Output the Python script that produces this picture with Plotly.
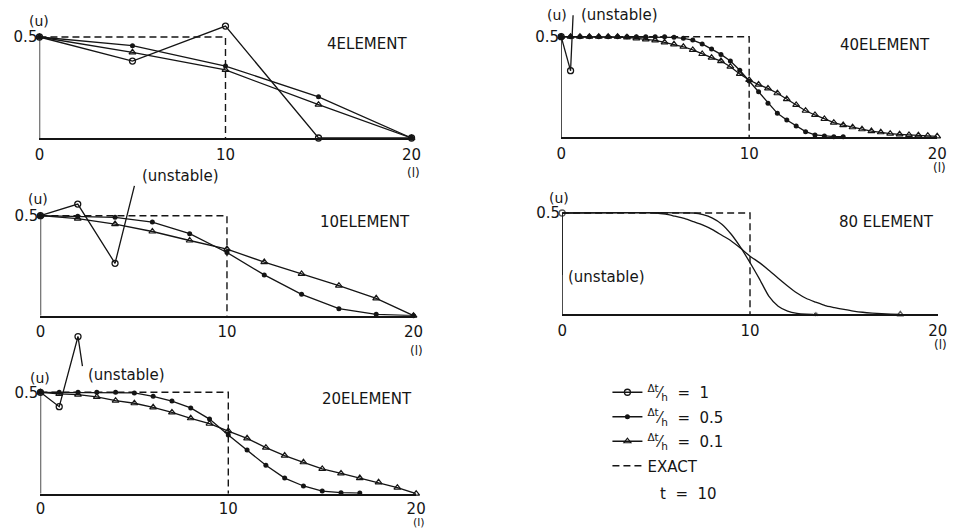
import plotly.graph_objects as go

# ---------------- data ----------------
# exact solution at t = 10 (step moved to l = 10)
exact_l = [0, 10, 10]
exact_u = [0.5, 0.5, 0.0]

# 4 elements
l4 = [0, 5, 10, 15, 20]
u4_c1 = [0.5, 0.381, 0.554, 0.0, 0.0]
u4_c05 = [0.5, 0.457, 0.356, 0.204, 0.0]
u4_c01 = [0.5, 0.424, 0.337, 0.165, 0.0]

# 10 elements
l10 = [0, 2, 4, 6, 8, 10, 12, 14, 16, 18, 20]
l10_c1 = [0, 2, 4]
u10_c1 = [0.5, 0.558, 0.262]
u10_c05 = [0.5, 0.497, 0.492, 0.468, 0.41, 0.316, 0.204, 0.107, 0.035, 0.007, 0.0]
u10_c01 = [0.5, 0.485, 0.458, 0.421, 0.376, 0.333, 0.268, 0.209, 0.150, 0.087, 0.0]

# 20 elements
l20 = list(range(0, 21))
l20_c1 = [0, 1, 2]
u20_c1 = [0.5, 0.429, 0.775]
l20_c05 = list(range(0, 18))
u20_c05 = [0.5, 0.5, 0.5, 0.5, 0.5, 0.497, 0.48, 0.457, 0.423, 0.368, 0.289,
           0.215, 0.14, 0.077, 0.038, 0.013, 0.005, 0.003]
u20_c01 = [0.5, 0.492, 0.489, 0.477, 0.459, 0.446, 0.426, 0.401, 0.372, 0.345, 0.309,
           0.273, 0.227, 0.188, 0.155, 0.122, 0.100, 0.077, 0.056, 0.030, 0.0]

# 40 elements
l40_c1 = [0, 0.5]
u40_c1 = [0.5, 0.331]
l40_c05 = [i * 0.5 for i in range(31)]
u40_c05 = [0.5] * 12 + [0.497, 0.492, 0.483, 0.464, 0.439, 0.412, 0.379, 0.333, 0.280,
                        0.227, 0.169, 0.119, 0.086, 0.056, 0.028, 0.012, 0.007, 0.003, 0.003]
l40_c01 = [i * 0.5 for i in range(41)]
u40_c01 = [0.5] * 7 + [0.497, 0.492, 0.487, 0.482, 0.472, 0.462, 0.450, 0.434, 0.414, 0.396,
                       0.379, 0.351, 0.315, 0.285, 0.262, 0.243, 0.219, 0.19, 0.161, 0.132,
                       0.111, 0.091, 0.073, 0.061, 0.050, 0.040, 0.031, 0.025, 0.018, 0.015,
                       0.012, 0.010, 0.008, 0.005]

# 80 elements (smooth curves)
l80_c1 = [0, 0]
u80_c1 = [0.5, 0.194]
l80_c05 = [0, 7, 7.5, 8, 8.5, 9, 9.5, 10, 10.5, 11, 11.5, 12, 12.5, 13, 13.5]
u80_c05 = [0.5, 0.5, 0.492, 0.475, 0.445, 0.395, 0.33, 0.255, 0.175, 0.09, 0.04, 0.016, 0.005, 0.001, 0.0]
l80_c01 = [0, 5, 5.5, 6, 6.5, 7, 7.5, 8, 8.5, 9, 9.5, 10, 10.5, 11, 11.5, 12, 12.5, 13,
           13.5, 14, 14.5, 15, 15.5, 16, 16.5, 17, 17.5, 18]
u80_c01 = [0.5, 0.5, 0.494, 0.484, 0.473, 0.457, 0.44, 0.418, 0.39, 0.362, 0.326, 0.287,
           0.255, 0.218, 0.178, 0.14, 0.105, 0.078, 0.06, 0.043, 0.033, 0.024, 0.016,
           0.01, 0.006, 0.003, 0.001, 0.0]

x_ticks = [0, 10, 20]
y_ticks = [0.5]
y_ticktext = ["0.5"]
titles = ["4ELEMENT", "10ELEMENT", "20ELEMENT", "40ELEMENT", "80 ELEMENT"]
legend_names = ["<sup>Δt</sup>⁄<sub>h</sub>  =  1",
                "<sup>Δt</sup>⁄<sub>h</sub>  =  0.5",
                "<sup>Δt</sup>⁄<sub>h</sub>  =  0.1",
                "EXACT"]

# ---------------- layout helpers ----------------
W, H = 959, 528
INK = "#151515"
FONT = "DejaVu Sans"

# (x0 px, x20 px, y0 px, px per unit u, y range top)
panels = [
    (35, 413, 138.0, 202.0, 0.6),
    (36, 415, 315.7, 200.0, 0.6),
    (36, 417.7, 493.7, 202.8, 0.8),
    (565, 947, 137.3, 201.2, 0.55),
    (566, 947.7, 314.3, 202.6, 0.55),
]

fig = go.Figure()

styles = {
    "c1": dict(symbol="circle-open", size=6, line=dict(width=1.3, color=INK)),
    "c05": dict(symbol="circle", size=5, color=INK),
    "c01": dict(symbol="triangle-up-open", size=6, line=dict(width=1.2, color=INK)),
}
ranks = {"c1": 1, "c05": 2, "c01": 3, "exact": 4}


def add(panel, x, y, kind, legend=False, name=None, mode="lines+markers", shape="linear", sizes=None):
    ax = "" if panel == 1 else str(panel)
    mk = dict(styles[kind])
    if sizes is not None:
        mk["size"] = sizes
    fig.add_trace(go.Scatter(
        x=x, y=y, mode=mode, xaxis="x" + ax, yaxis="y" + ax,
        line=dict(color=INK, width=1.3, shape=shape, smoothing=0.6),
        marker=mk, cliponaxis=False, showlegend=legend, name=name,
        legendgroup=kind, legendrank=ranks[kind],
    ))


def add_exact(panel, legend=False):
    ax = "" if panel == 1 else str(panel)
    fig.add_trace(go.Scatter(
        x=exact_l, y=exact_u, mode="lines", xaxis="x" + ax, yaxis="y" + ax,
        line=dict(color=INK, width=1.4, dash="7px,4px"),
        showlegend=legend, name=legend_names[3], legendgroup="exact",
        legendrank=ranks["exact"], cliponaxis=False,
    ))


# panel 1
add(1, l4, u4_c1, "c1", True, legend_names[0])
add(1, l4, u4_c05, "c05", True, legend_names[1])
add(1, l4, u4_c01, "c01", True, legend_names[2])
add_exact(1, True)
# panel 2
add_exact(2)
add(2, l10_c1, u10_c1, "c1")
add(2, l10, u10_c05, "c05")
add(2, l10, u10_c01, "c01")
# panel 3
add_exact(3)
add(3, l20_c1, u20_c1, "c1")
add(3, l20_c05, u20_c05, "c05")
add(3, l20, u20_c01, "c01")
# panel 4
add_exact(4)
add(4, l40_c1, u40_c1, "c1")
add(4, l40_c05, u40_c05, "c05")
add(4, l40_c01, u40_c01, "c01")
# panel 5
add_exact(5)
add(5, l80_c1, u80_c1, "c1", sizes=[6, 0])
add(5, l80_c05, u80_c05, "c05", shape="spline", sizes=[0] * (len(l80_c05) - 1) + [5])
add(5, l80_c01, u80_c01, "c01", shape="spline", sizes=[0] * (len(l80_c01) - 1) + [6])

layout = dict(
    width=W, height=H, margin=dict(l=0, r=0, t=0, b=0),
    paper_bgcolor="white", plot_bgcolor="white",
    font=dict(family=FONT, size=15, color=INK),
    showlegend=True,
    legend=dict(x=612 / W, y=1 - 376 / H, xanchor="left", yanchor="top",
                bgcolor="rgba(0,0,0,0)", font=dict(size=15, family=FONT),
                traceorder="grouped", tracegroupgap=2, itemwidth=30),
)

annotations = []
shapes = []
for i, (x0, x20, y0, ppu, ytop) in enumerate(panels, start=1):
    ax = "" if i == 1 else str(i)
    top_px = y0 - ytop * ppu
    layout["xaxis" + ax] = dict(
        domain=[x0 / W, x20 / W], range=[0, 20], anchor="y" + ax,
        showline=True, linecolor=INK, linewidth=1.5, ticks="",
        tickvals=x_ticks, showgrid=False, zeroline=False,
        ticklabelstandoff=1 if i == 3 else 2,
        tickfont=dict(size=15),
    )
    layout["yaxis" + ax] = dict(
        domain=[1 - y0 / H, 1 - top_px / H], range=[0, ytop], anchor="x" + ax,
        showline=False, ticks="", tickvals=y_ticks, ticktext=y_ticktext,
        showgrid=False, zeroline=False, tickfont=dict(size=15), ticklabelstandoff=1,
    )
    # y axis line from 0 to 0.5
    shapes.append(dict(type="line", xref="x" + ax, yref="y" + ax, x0=0, x1=0, y0=0, y1=0.5,
                       line=dict(color=INK, width=1.5), layer="below"))

# panel texts: (text, x px, y px, size)
texts = [
    (titles[0], 368, 44, 15), (titles[1], 366, 222, 15), (titles[2], 368, 399, 15),
    (titles[3], 894, 45, 15), (titles[4], 895, 222, 15),
    ("(u)", 35, 21, 14), ("(u)", 34, 199, 14), ("(u)", 36, 378, 14), ("(u)", 561, 15, 14),
    ("(u)", 563, 198, 14),
    ("(l)", 415, 173, 12), ("(l)", 418, 351, 12), ("(l)", 421, 522, 11), ("(l)", 949, 168, 12),
    ("(l)", 950, 345, 12),
]
for t, xp, yp, fs in texts:
    annotations.append(dict(text=t, x=xp / W, y=1 - yp / H, xref="paper", yref="paper",
                            showarrow=False, xanchor="center", yanchor="middle",
                            font=dict(size=fs, family=FONT, color=INK)))

# "(unstable)" labels
unst = [(137, 176), (82, 375), (583, 15), (570, 277)]
for xp, yp in unst:
    annotations.append(dict(text="(unstable)", x=xp / W, y=1 - yp / H, xref="paper", yref="paper",
                            showarrow=False, xanchor="left", yanchor="middle",
                            font=dict(size=15, family=FONT, color=INK)))

# pointer lines from last unstable node toward label
pointers = [("2", l10_c1[-1], u10_c1[-1], 22, -88),
            ("3", l20_c1[-1], u20_c1[-1], 6, 40),
            ("4", l40_c1[-1], u40_c1[-1], 3, -66)]
for ax, xv, yv, dx, dy in pointers:
    annotations.append(dict(text=" ", x=xv, y=yv, xref="x" + ax, yref="y" + ax,
                            showarrow=True, arrowhead=0, arrowwidth=1.3, arrowcolor=INK,
                            ax=dx, ay=dy, standoff=0, startstandoff=0))

annotations.append(dict(text="t  =  10", x=663 / W, y=1 - 494 / H, xref="paper", yref="paper",
                        showarrow=False, xanchor="left", yanchor="middle",
                        font=dict(size=15, family=FONT, color=INK)))

layout["annotations"] = annotations
layout["shapes"] = shapes
fig.update_layout(**layout)

fig.write_html("out.html")
